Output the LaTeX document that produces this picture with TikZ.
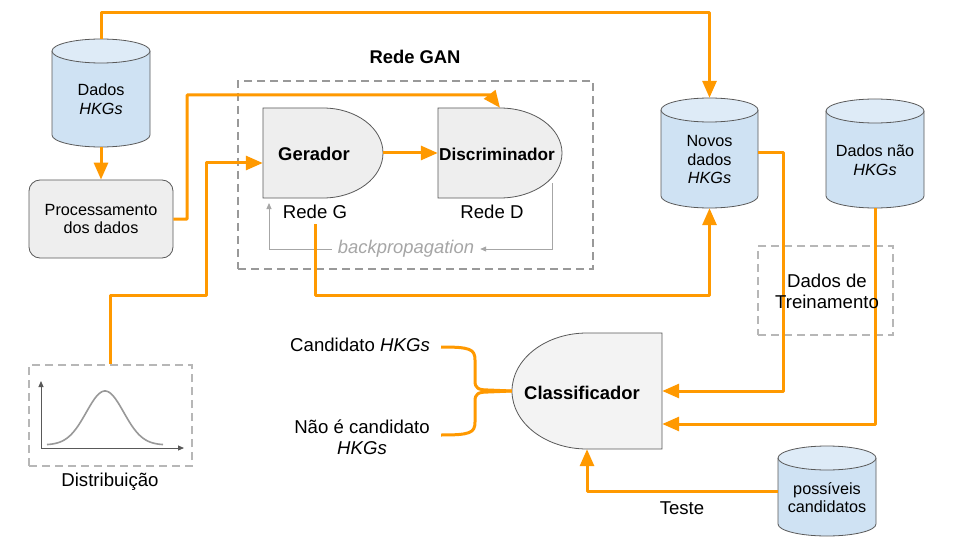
\documentclass[tikz,border=0pt]{standalone}
\usepackage{fontspec}
\setmainfont{Liberation Sans}
\usetikzlibrary{arrows.meta,calc}
\definecolor{orng}{HTML}{FF9900}
\definecolor{shapeline}{HTML}{595959}
\definecolor{shapefill}{HTML}{EEEEEE}
\definecolor{cfill}{HTML}{F3F3F3}
\definecolor{cylbody}{HTML}{CFE2F3}
\definecolor{cyltop}{HTML}{DEEBF7}
\definecolor{dashgrey}{HTML}{999999}
\definecolor{ldashgrey}{HTML}{B7B7B7}
\definecolor{bpgrey}{HTML}{A6A6A6}
\tikzset{
  orl/.style={draw=orng, line width=3pt, line join=round},
  oarr/.style={orl, -{Triangle[length=17pt,width=14pt]}},
  shp/.style={draw=shapeline, line width=0.8pt, fill=shapefill},
  cylline/.style={draw=shapeline, line width=0.8pt},
  txt/.style={font=\fontsize{18.6}{21}\selectfont, align=center, inner sep=1pt},
  stxt/.style={font=\fontsize{16.2}{18.5}\selectfont, align=center, inner sep=1pt},
  btxt/.style={font=\bfseries\fontsize{18.4}{21}\selectfont, inner sep=1pt},
  gdash/.style={draw=dashgrey, line width=1.6pt, dash pattern=on 8pt off 5pt},
  ldash/.style={draw=ldashgrey, line width=1.6pt, dash pattern=on 8pt off 5pt},
  bpl/.style={draw=bpgrey, line width=0.9pt, -{Triangle[length=6pt,width=5pt]}},
  axl/.style={draw=shapeline, line width=0.9pt, -{Triangle[length=6pt,width=5pt]}},
  ghost/.style={inner sep=0pt, draw=none}
}
\newcommand{\mycyl}[5]{%
  \pgfmathsetmacro{\cyX}{(#2+#4)/2}%
  \pgfmathsetmacro{\cyR}{(#4-#2)/2}%
  \pgfmathsetmacro{\cyT}{#3+12}%
  \pgfmathsetmacro{\cyB}{#5-12}%
  \pgfmathsetmacro{\cyK}{0.5523*\cyR}%
  \pgfmathsetmacro{\cyM}{(#3+#5)/2}%
  \pgfmathsetmacro{\cyW}{#4-#2}%
  \pgfmathsetmacro{\cyH}{#5-#3}%
  \path[fill=cylbody] (#2,\cyT) -- (#2,\cyB) .. controls (#2,\cyB+6.63) and (\cyX-\cyK,#5) .. (\cyX,#5) .. controls (\cyX+\cyK,#5) and (#4,\cyB+6.63) .. (#4,\cyB) -- (#4,\cyT) -- cycle;
  \draw[cylline] (#2,\cyT) -- (#2,\cyB) .. controls (#2,\cyB+6.63) and (\cyX-\cyK,#5) .. (\cyX,#5) .. controls (\cyX+\cyK,#5) and (#4,\cyB+6.63) .. (#4,\cyB) -- (#4,\cyT);
  \draw[cylline, fill=cyltop] (\cyX,\cyT) ellipse [x radius=\cyR, y radius=12];
  \node[ghost, minimum width=\cyW pt, minimum height=\cyH pt] (#1) at (\cyX,\cyM) {};
}
\begin{document}
\begin{tikzpicture}[x=1pt,y=-1pt]
\useasboundingbox[fill=white] (0,0) rectangle (960,540);

% dashed frames
\node[gdash, minimum width=355pt, minimum height=188pt] (gan) at (415.5,175) {};
\node[ldash, minimum width=163pt, minimum height=101pt] (dist) at (110.5,415.5) {};
\node[ldash, minimum width=135pt, minimum height=89pt] (tr) at (825.5,290.5) {};

% cylinders
\mycyl{dh}{52}{39}{150}{147}
\mycyl{nd}{661}{98}{758}{208}
\mycyl{dn}{826}{99}{924}{208}
\mycyl{pc}{778}{446}{876}{536}

% processing box
\node[shp, rounded corners=11pt, minimum width=144pt, minimum height=78pt, stxt] (pd) at (101,219) {Processamento\\dos dados};

% generator / discriminator / classifier shapes
\node[ghost, minimum width=120pt, minimum height=90pt] (G) at (323,153) {};
\draw[shp] (263,108) -- (323,108) .. controls (356.1,108) and (383,128.1) .. (383,153) .. controls (383,177.9) and (356.1,198) .. (323,198) -- (263,198) -- cycle;
\node[ghost, minimum width=124pt, minimum height=90pt] (D) at (500,153) {};
\draw[shp] (438,108) -- (500,108) .. controls (534.2,108) and (562,128.1) .. (562,153) .. controls (562,177.9) and (534.2,198) .. (500,198) -- (438,198) -- cycle;
\node[ghost, minimum width=150pt, minimum height=116pt] (C) at (587,391) {};
\draw[shp, fill=cfill] (587,333) .. controls (545.6,333) and (512,359) .. (512,391) .. controls (512,423) and (545.6,449) .. (587,449) -- (662,449) -- (662,333) -- cycle;

% labels needed for connectors
\node[txt] (rg) at (315,212) {Rede G};
\node[txt] (rd) at (492,212) {Rede D};
\node[font=\itshape\fontsize{18.4}{21}\selectfont, text=bpgrey, fill=white, inner sep=6pt] (bp) at (406,249) {backpropagation};

% backpropagation
\coordinate (bpS) at (552,183);
\coordinate (bpE) at (269,203);
\draw[bpl] (bpS) |- (bp.east);
\draw[bpl] (bp.west) -| (bpE);

% orange connectors
\coordinate (topbar) at (0,13);
\draw[oarr] (dh.north) -- (dh.north |- topbar) -| (nd.north);
\draw[oarr] (dh.south) -- (pd.north);
\coordinate (gbar) at (187,95);
\draw[oarr] (pd.east) -| (gbar) -- ([xshift=-10pt,yshift=13pt]D.north) -- (D.north);
\draw[oarr] (G.east) -- (D.west);
\coordinate (lowbar) at (0,295);
\draw[oarr] ([yshift=-4pt]rg.south) -- (rg.south |- lowbar) -| (nd.south);
\coordinate (dk) at (206,295);
\draw[oarr] (dist.north) |- (dk) |- ([yshift=-10pt]G.west);
\draw[oarr] (nd.east) -- ++(25,0) |- (C.east);
\draw[oarr] (dn.south) |- ([yshift=-33pt]C.east);
\draw[oarr] (pc.west) -| (C.south);

% brace
\coordinate (brT) at (441,347);
\coordinate (brB) at (441,435);
\draw[orl] (brT) .. controls (470,347) and (475,349) .. (475,360) -- (475,381) .. controls (475,388) and (478,390) .. (488,390) -- (C.west);
\draw[orl] (brB) .. controls (470,435) and (475,433) .. (475,422) -- (475,401) .. controls (475,394) and (478,392) .. (488,392) -- (C.west);

% distribution plot
\coordinate (ax0) at (41,448);
\draw[axl] (ax0) -- (41,381);
\draw[axl] (ax0) -- (184,448);
\draw[draw=dashgrey, line width=1.6pt] plot[domain=47:163, samples=70, smooth] (\x, {445-54*exp(-((\x-105)^2)/699)});

% texts
\node[btxt] (gant) at (415,57) {Rede GAN};
\node[btxt] (gt) at (314,154) {Gerador};
\node[font=\bfseries\fontsize{17.2}{20}\selectfont, inner sep=1pt] (dt) at (497,154) {Discriminador};
\node[btxt] (ct) at (582,393) {Classificador};
\node[stxt] (dht) at (101,99) {Dados\\\textit{HKGs}};
\node[stxt] (ndt) at (709.5,160) {Novos\\dados\\\textit{HKGs}};
\node[stxt] (dnt) at (875,160) {Dados não\\\textit{HKGs}};
\node[stxt] (pct) at (827,497.5) {possíveis\\candidatos};
\node[txt] (trt) at (827,291) {Dados de\\Treinamento};
\node[txt] (distl) at (110,482) {Distribuição};
\node[txt, anchor=east] (cand) at (431,345) {Candidato \textit{HKGs}};
\node[txt] (ncand) at (362,437) {Não é candidato\\\textit{HKGs}};
\node[txt] (teste) at (682,508) {Teste};
\end{tikzpicture}
\end{document}
